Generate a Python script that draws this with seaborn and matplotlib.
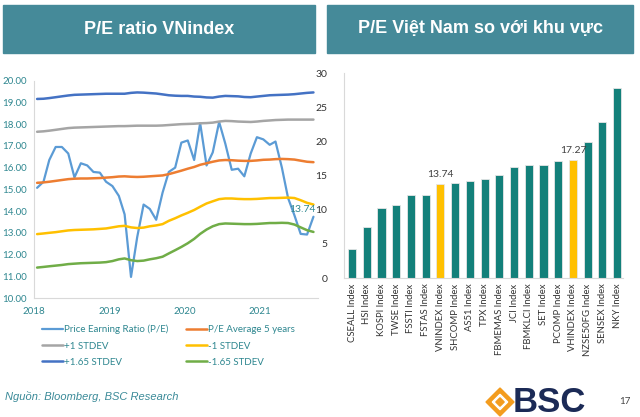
import pandas as pd
import numpy as np
import matplotlib.pyplot as plt
import matplotlib.dates as mdates
from matplotlib.patches import Rectangle, Polygon
import seaborn as sns

sns.set_style("white")
plt.rcParams['font.family'] = ['Lato', 'DejaVu Sans']

# ---- left chart: monthly P/E of VNindex, Jan 2018 - Sep 2021 ----
pe = [15.07, 15.35, 16.35, 16.95, 16.95, 16.65, 15.55, 16.2, 16.1, 15.8,
      15.77, 15.35, 15.15, 14.7, 13.85, 10.97, 12.8, 14.3, 14.1, 13.6,
      14.85, 15.8, 16.0, 17.15, 17.25, 16.35, 18.05, 16.1, 16.7, 18.1,
      17.1, 15.9, 15.95, 15.6, 16.65, 17.4, 17.3, 17.05, 17.2, 16.0,
      14.6, 13.8, 12.95, 12.92, 13.74]
pe_avg = [15.3, 15.32, 15.35, 15.39, 15.43, 15.47, 15.49, 15.5, 15.5, 15.51,
          15.52, 15.54, 15.56, 15.59, 15.6, 15.58, 15.57, 15.58, 15.6, 15.62,
          15.64, 15.7, 15.78, 15.86, 15.95, 16.03, 16.13, 16.2, 16.27, 16.33,
          16.35, 16.34, 16.32, 16.31, 16.31, 16.33, 16.36, 16.37, 16.39, 16.4,
          16.39, 16.37, 16.32, 16.27, 16.25]
plus1 = [17.65, 17.67, 17.7, 17.74, 17.78, 17.82, 17.84, 17.85, 17.86, 17.87,
         17.88, 17.89, 17.9, 17.91, 17.91, 17.92, 17.93, 17.93, 17.93, 17.93,
         17.94, 17.96, 17.98, 18.0, 18.01, 18.02, 18.04, 18.05, 18.07, 18.12,
         18.15, 18.14, 18.12, 18.11, 18.1, 18.12, 18.15, 18.17, 18.19, 18.2,
         18.21, 18.21, 18.21, 18.21, 18.21]
minus1 = [12.94, 12.97, 13.0, 13.03, 13.07, 13.11, 13.13, 13.14, 13.15, 13.16,
          13.18, 13.2, 13.25, 13.3, 13.32, 13.25, 13.22, 13.24, 13.3, 13.34,
          13.4, 13.55, 13.67, 13.8, 13.92, 14.05, 14.2, 14.35, 14.45, 14.55,
          14.58, 14.58, 14.56, 14.55, 14.55, 14.56, 14.58, 14.6, 14.6, 14.61,
          14.62, 14.6, 14.5, 14.38, 14.3]
plus165 = [19.16, 19.17, 19.2, 19.24, 19.28, 19.32, 19.35, 19.36, 19.37, 19.38,
           19.39, 19.4, 19.4, 19.4, 19.4, 19.44, 19.46, 19.45, 19.43, 19.41,
           19.37, 19.33, 19.31, 19.3, 19.3, 19.27, 19.26, 19.23, 19.22, 19.27,
           19.3, 19.29, 19.28, 19.25, 19.24, 19.27, 19.3, 19.33, 19.34, 19.35,
           19.36, 19.38, 19.41, 19.44, 19.46]
minus165 = [11.4, 11.43, 11.46, 11.49, 11.52, 11.56, 11.58, 11.6, 11.61, 11.62,
            11.63, 11.65, 11.7, 11.78, 11.82, 11.74, 11.7, 11.72, 11.78, 11.83,
            11.9, 12.05, 12.2, 12.35, 12.52, 12.72, 12.95, 13.15, 13.3, 13.4,
            13.43, 13.42, 13.41, 13.4, 13.4, 13.41, 13.43, 13.45, 13.45, 13.46,
            13.45, 13.38, 13.25, 13.12, 13.04]
months = pd.date_range("2018-01-01", periods=len(pe), freq="MS") + pd.Timedelta(days=15)

series_names = ["Price Earning Ratio (P/E)", "P/E Average 5 years", "+1 STDEV",
                "-1 STDEV", "+1.65 STDEV", "-1.65 STDEV"]
series_vals = [pe, pe_avg, plus1, minus1, plus165, minus165]
series_colors = ["#5B9BD5", "#ED7D31", "#A5A5A5", "#FFC000", "#4472C4", "#70AD47"]

# ---- right chart: regional P/E ----
indices = ["CSEALL Index", "HSI Index", "KOSPI Index", "TWSE Index", "FSSTI Index",
           "FSTAS Index", "VNINDEX Index", "SHCOMP Index", "AS51 Index", "TPX Index",
           "FBMEMAS Index", "JCI Index", "FBMKLCI Index", "SET Index", "PCOMP Index",
           "VHINDEX Index", "NZSE50FG Index", "SENSEX Index", "NKY Index"]
index_pe = [4.3, 7.5, 10.2, 10.7, 12.1, 12.2, 13.74, 13.9, 14.2, 14.5,
            15.1, 16.2, 16.6, 16.6, 17.1, 17.27, 19.9, 22.8, 27.9]
highlight = ["VNINDEX Index", "VHINDEX Index"]

teal_txt = "#2F8790"
fig = plt.figure(figsize=(6.4, 4.17), dpi=100)

# header boxes
for x0, w, title in [(3, 312, "P/E ratio VNindex"), (327, 306, "P/E Việt Nam so với khu vực")]:
    fig.patches.append(Rectangle((x0 / 640, 1 - 53 / 417), w / 640, 48 / 417,
                                 transform=fig.transFigure, color="#458A99", zorder=0))
    fig.text((x0 + w / 2) / 640, 1 - 29 / 417, title, ha="center", va="center",
             color="white", fontsize=13, fontweight="bold", family="Liberation Sans")

# left line chart
ax1 = fig.add_axes([34 / 640, 1 - 298 / 417, 284 / 640, 217.3 / 417])
df = pd.DataFrame({"month": months})
for name, vals in zip(series_names, series_vals):
    df[name] = vals
for name, col in zip(series_names, series_colors):
    sns.lineplot(data=df, x="month", y=name, ax=ax1, color=col,
                 linewidth=1.6 if name == series_names[0] else 1.8, label=name)
handles = dict(zip(*ax1.get_legend_handles_labels()[::-1]))
ax1.get_legend().remove()
ax1.set_ylim(10, 20)
ax1.set_yticks(np.arange(10, 20.01, 1))
ax1.yaxis.set_major_formatter(plt.FormatStrFormatter("%.2f"))
ax1.set_xlim(pd.Timestamp("2018-01-01"), pd.Timestamp("2021-10-08"))
ax1.xaxis.set_major_locator(mdates.YearLocator())
ax1.xaxis.set_major_formatter(mdates.DateFormatter("%Y"))
ax1.set_xlabel("")
ax1.set_ylabel("")
ax1.tick_params(labelsize=7, colors="#d0d0d0", labelcolor=teal_txt, length=3, width=0.6)
ax1.tick_params(axis="y", pad=2)
for s in ["top", "right"]:
    ax1.spines[s].set_visible(False)
for s in ["left", "bottom"]:
    ax1.spines[s].set_color("#d9d9d9")
ax1.annotate(f"{pe[-1]:.2f}", (months[-1], pe[-1]), xytext=(-8, 5),
             textcoords="offset points", ha="center", va="center",
             fontsize=7.5, color=teal_txt)

order = [series_names[i] for i in [0, 2, 4, 1, 3, 5]]
fig.legend([handles[n] for n in order], order, ncol=2, frameon=False,
           loc="upper left", bbox_to_anchor=(33 / 640, 1 - 316 / 417),
           fontsize=7, labelcolor=teal_txt, handlelength=2.2, handletextpad=0.1,
           columnspacing=1.8, labelspacing=0.75)

# right bar chart
ax2 = fig.add_axes([344 / 640, 1 - 278 / 417, 279 / 640, 204.7 / 417])
bars = pd.DataFrame({"index": indices, "pe": index_pe})
pal = {n: ("#FFC000" if n in highlight else "#13807A") for n in indices}
sns.barplot(data=bars, x="index", y="pe", hue="index", palette=pal, legend=False,
            width=0.55, ax=ax2, edgecolor="#e6e6e6", linewidth=0.6, saturation=1)
for n in highlight:
    i = indices.index(n)
    ax2.text(i, index_pe[i] + 0.7, f"{index_pe[i]:.2f}", ha="center", va="bottom",
             fontsize=7.5, color="#404040")
ax2.set_xlim(-0.55, 18.4)
ax2.set_ylim(0, 30)
ax2.set_yticks(range(0, 31, 5))
ax2.set_xlabel("")
ax2.set_ylabel("")
ax2.tick_params(axis="x", rotation=90, labelsize=6.8, labelcolor="#333333", length=0, pad=4)
ax2.tick_params(axis="y", labelsize=7.5, labelcolor="#333333", length=0, pad=12)
for s in ["top", "right"]:
    ax2.spines[s].set_visible(False)
for s in ["left", "bottom"]:
    ax2.spines[s].set_color("#d9d9d9")

# footer
fig.text(5 / 640, 1 - 397 / 417, "Nguồn: Bloomberg, BSC Research", ha="left", va="center",
         fontsize=8, style="italic", color="#3A8A98", family="Liberation Sans")
cx, cy = 500 / 640, 1 - 402 / 417
dx, dy = 14 / 640, 14 / 417
fig.patches.append(Polygon([(cx - dx, cy), (cx, cy + dy), (cx + dx, cy), (cx, cy - dy)],
                           closed=True, transform=fig.transFigure, color="#F39C1E"))
fig.patches.append(Polygon([(cx - dx * 0.55, cy), (cx, cy + dy * 0.55), (cx + dx * 0.55, cy),
                            (cx, cy - dy * 0.55)], closed=True, transform=fig.transFigure,
                           color="white"))
fig.patches.append(Polygon([(cx - dx * 0.3, cy), (cx, cy + dy * 0.3), (cx + dx * 0.3, cy),
                            (cx, cy - dy * 0.3)], closed=True, transform=fig.transFigure,
                           color="#F39C1E"))
fig.text(513 / 640, cy, "BSC", ha="left", va="center", fontsize=25, fontweight="heavy",
         color="#1B2A56", family="Liberation Sans")
fig.text(625 / 640, 1 - 401 / 417, "17", ha="center", va="center", fontsize=7, color="#444444")

fig.savefig("out.png", dpi=100)
